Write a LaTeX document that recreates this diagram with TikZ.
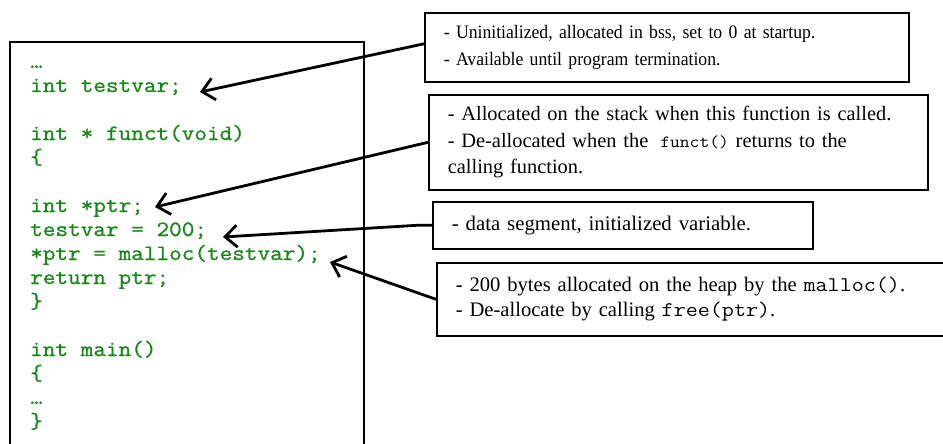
\documentclass[tikz,border=0pt]{standalone}
\usepackage{fontspec}
\setmainfont{Liberation Serif}
\newfontfamily\condserif[FakeStretch=0.93]{Liberation Serif}
\newfontfamily\codefont[FakeStretch=1.12,FakeBold=0.9]{Latin Modern Mono}
\newfontfamily\notemono[FakeStretch=1.12]{Latin Modern Mono}
\usetikzlibrary{arrows.meta}
\definecolor{codegreen}{RGB}{25,135,25}
\newcommand\mono[1]{{\notemono\fontsize{20.9}{24}\selectfont #1}}
\newcommand\smallmono[1]{{\notemono\fontsize{17}{20}\selectfont #1}}
\tikzset{
  codeline/.style={anchor=base west, inner sep=0pt, text=codegreen,
    font=\codefont\fontsize{21.9}{24}\selectfont},
  notebox/.style={draw, line width=1.6pt, anchor=north west, inner xsep=19pt,
    inner ysep=0pt, align=left, fill=white, font=\fontsize{20.5}{26.5}\selectfont},
  pointer/.style={line width=2.8pt, line join=round,
    -{Straight Barb[length=12pt,width=22pt]}},
}
\begin{document}
\begin{tikzpicture}[x=1pt,y=-1pt]
\clip (0,0) rectangle (943,444);
\fill[white] (0,0) rectangle (943,444);

% source listing frame (runs off the bottom edge)
\draw[line width=1.6pt] (10,42) rectangle (364,470);

% source listing
\node[codeline] (c0)  at (30,68)  {…};
\node[codeline] (c1)  at (30,92)  {int testvar;};
\node[codeline] (c3)  at (30,140) {int * funct(void)};
\node[codeline] (c4)  at (30,164) {\{};
\node[codeline] (c6)  at (30,212) {int *ptr;};
\node[codeline] (c7)  at (30,236) {testvar = 200;};
\node[codeline] (c8)  at (30,260) {*ptr = malloc(testvar);};
\node[codeline] (c9)  at (30,284) {return ptr;};
\node[codeline] (c10) at (30,308) {\}};
\node[codeline] (c12) at (30,356) {int main()};
\node[codeline] (c13) at (30,380) {\{};
\node[codeline] (c14) at (30,404) {…};
\node[codeline] (c15) at (30,428) {\}};

% explanatory notes
\node[notebox, minimum width=484pt, minimum height=69pt, text width=446pt,
  font=\condserif\fontsize{19}{26.5}\selectfont]
  (n1) at (424,12)
  {- Uninitialized, allocated in bss, set to 0 at startup.\\
   - Available until program termination.};
\node[notebox, minimum width=499pt, minimum height=95pt, text width=461pt,
  font=\fontsize{20.4}{26.5}\selectfont]
  (n2) at (428,94)
  {- Allocated on the stack when this function is called.\\
   - De-allocated when the\hspace{12pt}\smallmono{funct()} returns to the\\
   calling function.};
\node[notebox, minimum width=380pt, minimum height=47pt, text width=342pt,
  font=\fontsize{20.8}{26.5}\selectfont]
  (n3) at (432,201)
  {- data segment, initialized variable.};
\node[notebox, minimum width=530pt, minimum height=73pt, text width=492pt,
  font=\fontsize{20.6}{25}\selectfont]
  (n4) at (436,262)
  {- 200 bytes allocated on the heap by the \mono{malloc()}.\\
   - De-allocate by calling \mono{free(ptr)}.};

% arrow tips beside the code lines
\coordinate (tip1) at (200,92);
\coordinate (tip2) at (155,207);
\coordinate (tip3) at (223,237);
\coordinate (tip4) at (330,262);

\draw[pointer] ([yshift=3.5pt]n1.west) -- (tip1);
\draw[pointer] (n2.west) -- (tip2);
\draw[pointer] (n3.west) -- ++(-15,0) -- (tip3);
\draw[pointer] (n4.west) -- (tip4);
\end{tikzpicture}
\end{document}
